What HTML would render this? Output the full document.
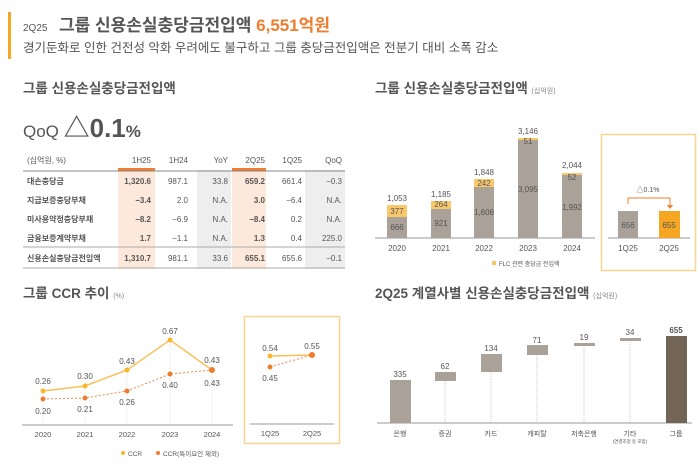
<!DOCTYPE html>
<html><head><meta charset="utf-8"><style>
body{margin:0;background:#fff;width:700px;height:466px;overflow:hidden}
text{font-family:"Liberation Sans","Noto Sans CJK KR",sans-serif;fill:#555}
</style></head><body>
<svg width="700" height="466" viewBox="0 0 700 466" xmlns="http://www.w3.org/2000/svg">
<!-- header -->
<rect x="8" y="12" width="3" height="47" fill="#f5a623"/>
<text x="23" y="31" font-size="10">2Q25</text>
<text x="59" y="31" font-size="17" font-weight="bold" fill="#5a5048">그룹 신용손실충당금전입액 <tspan fill="#f07d2d">6,551억원</tspan></text>
<text x="23" y="52" font-size="12.5" fill="#555">경기둔화로 인한 건전성 악화 우려에도 불구하고 그룹 충당금전입액은 전분기 대비 소폭 감소</text>
<text x="23" y="93" font-size="13.5" font-weight="bold" fill="#5a5048">그룹 신용손실충당금전입액</text>
<text x="375" y="93" font-size="13.5" font-weight="bold" fill="#5a5048">그룹 신용손실충당금전입액 <tspan font-size="7" font-weight="normal" fill="#888">(십억원)</tspan></text>
<text x="23" y="137" font-size="17" fill="#5a5048">QoQ <tspan font-size="26" font-weight="bold">△0.1</tspan><tspan font-size="17" font-weight="bold">%</tspan></text>

<!-- table -->
<rect x="118" y="170" width="37" height="99" fill="#fde9dc"/>
<rect x="232" y="170" width="34" height="99" fill="#fde9dc"/>
<rect x="197" y="170" width="34" height="99" fill="#eeeeee"/>
<rect x="305" y="170" width="40" height="99" fill="#eeeeee"/>
<rect x="118" y="168" width="37" height="3" fill="#f07d2d"/>
<rect x="232" y="168" width="34" height="3" fill="#f07d2d"/>
<line x1="23" y1="171" x2="345" y2="171" stroke="#888" stroke-width="1"/>
<line x1="23" y1="247" x2="345" y2="247" stroke="#aaa" stroke-width="1"/>
<line x1="23" y1="268" x2="345" y2="268" stroke="#aaa" stroke-width="1"/>
<g font-size="8">
<text x="27" y="163" fill="#555">(십억원, %)</text>
<g text-anchor="end">
<text x="151" y="163" fill="#f07d2d">1H25</text><text x="188" y="163">1H24</text><text x="228" y="163">YoY</text><text x="265" y="163" fill="#f07d2d">2Q25</text><text x="302" y="163">1Q25</text><text x="342" y="163">QoQ</text>
</g>
<text x="27" y="184" font-weight="bold">대손충당금</text>
<text x="27" y="203" font-weight="bold">지급보증충당부채</text>
<text x="27" y="222" font-weight="bold">미사용약정충당부채</text>
<text x="27" y="241" font-weight="bold">금융보증계약부채</text>
<text x="27" y="261" font-weight="bold">신용손실충당금전입액</text>
<g text-anchor="end">
<g font-weight="bold" fill="#444"><text x="151" y="184">1,320.6</text><text x="151" y="203">−3.4</text><text x="151" y="222">−8.2</text><text x="151" y="241">1.7</text><text x="151" y="261">1,310.7</text>
<text x="265" y="184">659.2</text><text x="265" y="203">3.0</text><text x="265" y="222">−8.4</text><text x="265" y="241">1.3</text><text x="265" y="261">655.1</text></g>
<g fill="#888"><text x="188" y="184">987.1</text><text x="188" y="203">2.0</text><text x="188" y="222">−6.9</text><text x="188" y="241">−1.1</text><text x="188" y="261">981.1</text>
<text x="228" y="184">33.8</text><text x="228" y="203">N.A.</text><text x="228" y="222">N.A.</text><text x="228" y="241">N.A.</text><text x="228" y="261">33.6</text>
<text x="302" y="184">661.4</text><text x="302" y="203">−6.4</text><text x="302" y="222">0.2</text><text x="302" y="241">0.4</text><text x="302" y="261">655.6</text>
<text x="342" y="184">−0.3</text><text x="342" y="203">N.A.</text><text x="342" y="222">N.A.</text><text x="342" y="241">225.0</text><text x="342" y="261">−0.1</text></g>
</g></g>

<!-- bar chart -->
<line x1="375" y1="238" x2="595" y2="238" stroke="#999"/>
<g fill="#aaa198">
<rect x="387" y="217" width="20" height="21"/><rect x="431" y="209" width="20" height="29"/><rect x="474" y="187" width="20" height="51"/><rect x="518" y="140" width="20" height="98"/><rect x="562" y="175" width="20" height="63"/>
</g>
<g fill="#f9c86a">
<rect x="387" y="205" width="20" height="12"/><rect x="431" y="201" width="20" height="8"/><rect x="474" y="179" width="20" height="8"/><rect x="518" y="138" width="20" height="2"/><rect x="562" y="173" width="20" height="2"/>
</g>
<g font-size="8" text-anchor="middle" fill="#555">
<text x="397" y="230">666</text><text x="397" y="214">377</text><text x="397" y="201" fill="#444">1,053</text>
<text x="441" y="226">921</text><text x="441" y="207">264</text><text x="441" y="197" fill="#444">1,185</text>
<text x="484" y="215">1,606</text><text x="484" y="186">242</text><text x="484" y="175" fill="#444">1,848</text>
<text x="528" y="192">3,095</text><text x="528" y="144">51</text><text x="528" y="134" fill="#444">3,146</text>
<text x="572" y="210">1,992</text><text x="572" y="180">52</text><text x="572" y="168" fill="#444">2,044</text>
<text x="397" y="251">2020</text><text x="441" y="251">2021</text><text x="484" y="251">2022</text><text x="528" y="251">2023</text><text x="572" y="251">2024</text>
</g>
<rect x="492" y="261" width="4" height="4" fill="#f9c86a"/>
<text x="499" y="266" font-size="6" fill="#888">FLC 관련 충당금 전입액</text>
<rect x="601.5" y="134.5" width="94" height="136" fill="none" stroke="#f9d58f" stroke-width="1.5"/>
<line x1="608" y1="238" x2="690" y2="238" stroke="#999"/>
<rect x="618" y="211" width="20" height="27" fill="#aaa198"/>
<rect x="659" y="211" width="21" height="27" fill="#f5a623"/>
<path d="M628 204 V198 H670 V206" fill="none" stroke="#f07d2d" stroke-width="1"/>
<path d="M667 205 L673 205 L670 209 Z" fill="#f07d2d"/>
<g font-size="8" text-anchor="middle">
<text x="648" y="192" fill="#f07d2d" font-size="7">△0.1%</text>
<text x="628" y="228">656</text><text x="669" y="228">655</text>
<text x="628" y="251">1Q25</text><text x="669" y="251">2Q25</text>
</g>

<!-- CCR -->
<text x="23" y="298" font-size="13.5" font-weight="bold" fill="#5a5048">그룹 CCR 추이 <tspan font-size="7" font-weight="normal" fill="#888">(%)</tspan></text>
<g stroke="#e6e6e6" stroke-dasharray="1,1"><line x1="43" y1="391" x2="43" y2="425"/><line x1="85" y1="386" x2="85" y2="425"/><line x1="127" y1="370" x2="127" y2="425"/><line x1="170" y1="340" x2="170" y2="425"/><line x1="212" y1="370" x2="212" y2="425"/></g>
<line x1="22" y1="425" x2="233" y2="425" stroke="#999"/>
<polyline points="43,391 85,386 127,370 170,340 212,370" fill="none" stroke="#f9c05a" stroke-width="1.5"/>
<polyline points="43,399 85,398 127,391 170,374 212,370" fill="none" stroke="#f08a4b" stroke-width="1" stroke-dasharray="2,2"/>
<g fill="#f9b82a"><circle cx="43" cy="391" r="2.5"/><circle cx="85" cy="386" r="2.5"/><circle cx="127" cy="370" r="2.5"/><circle cx="170" cy="340" r="2.5"/></g>
<g fill="#f07d2d"><circle cx="43" cy="399" r="2.5"/><circle cx="85" cy="398" r="2.5"/><circle cx="127" cy="391" r="2.5"/><circle cx="170" cy="374" r="2.5"/><circle cx="212" cy="370" r="3"/></g>
<g font-size="8" text-anchor="middle">
<text x="43" y="384">0.26</text><text x="85" y="379">0.30</text><text x="127" y="364">0.43</text><text x="170" y="334">0.67</text><text x="212" y="363">0.43</text>
<text x="43" y="414">0.20</text><text x="85" y="412">0.21</text><text x="127" y="405">0.26</text><text x="170" y="388">0.40</text><text x="212" y="386">0.43</text>
<text x="43" y="437" font-size="7.5">2020</text><text x="85" y="437" font-size="7.5">2021</text><text x="127" y="437" font-size="7.5">2022</text><text x="170" y="437" font-size="7.5">2023</text><text x="212" y="437" font-size="7.5">2024</text>
</g>
<circle cx="123" cy="453" r="2" fill="#f9b82a"/><text x="128" y="456" font-size="6.5" fill="#888">CCR</text>
<circle cx="158" cy="453" r="2" fill="#f07d2d"/><text x="163" y="456" font-size="6.5" fill="#888">CCR(특이요인 제외)</text>
<rect x="244.5" y="316.5" width="95" height="127" fill="none" stroke="#f9d58f" stroke-width="1.5"/>
<line x1="250" y1="424" x2="334" y2="424" stroke="#999"/>
<line x1="270" y1="356" x2="312" y2="355" stroke="#f9c05a" stroke-width="1.5"/>
<line x1="270" y1="367" x2="312" y2="355" stroke="#f08a4b" stroke-dasharray="2,2"/>
<circle cx="270" cy="356" r="2.5" fill="#f9b82a"/><circle cx="270" cy="367" r="2.5" fill="#f07d2d"/><circle cx="312" cy="355" r="3" fill="#f07d2d"/>
<g font-size="8" text-anchor="middle"><text x="270" y="351">0.54</text><text x="312" y="349">0.55</text><text x="270" y="381">0.45</text>
<text x="270" y="436" font-size="7.5">1Q25</text><text x="312" y="436" font-size="7.5">2Q25</text></g>

<!-- waterfall -->
<text x="375" y="298" font-size="13.5" font-weight="bold" fill="#5a5048">2Q25 계열사별 신용손실충당금전입액 <tspan font-size="7" font-weight="normal" fill="#888">(십억원)</tspan></text>
<g stroke="#ccc" stroke-dasharray="1,1"><line x1="445" y1="379" x2="445" y2="423"/><line x1="491" y1="372" x2="491" y2="423"/><line x1="537" y1="355" x2="537" y2="423"/><line x1="584" y1="345" x2="584" y2="423"/><line x1="630" y1="342" x2="630" y2="423"/></g>
<line x1="377" y1="423" x2="692" y2="423" stroke="#999"/>
<g fill="#aaa198">
<rect x="390" y="380" width="21" height="43"/>
<rect x="435" y="372" width="21" height="9"/>
<rect x="481" y="354" width="21" height="18"/>
<rect x="527" y="345" width="21" height="10"/>
<rect x="574" y="343" width="21" height="3"/>
<rect x="620" y="338" width="21" height="3"/>
</g>
<rect x="666" y="336" width="21" height="87" fill="#736556"/>
<g font-size="8" text-anchor="middle">
<text x="400" y="377">335</text><text x="445" y="369">62</text><text x="491" y="351">134</text><text x="537" y="343">71</text><text x="584" y="340">19</text><text x="630" y="335">34</text><text x="676" y="333" font-weight="bold" fill="#333">655</text>
<g font-size="7"><text x="400" y="436">은행</text><text x="445" y="436">증권</text><text x="491" y="436">카드</text><text x="537" y="436">캐피탈</text><text x="584" y="436">저축은행</text><text x="630" y="436">기타</text><text x="676" y="436">그룹</text></g>
<text x="630" y="443" font-size="4.5">(연결조정 등 포함)</text>
</g>
</svg>
</body></html>
